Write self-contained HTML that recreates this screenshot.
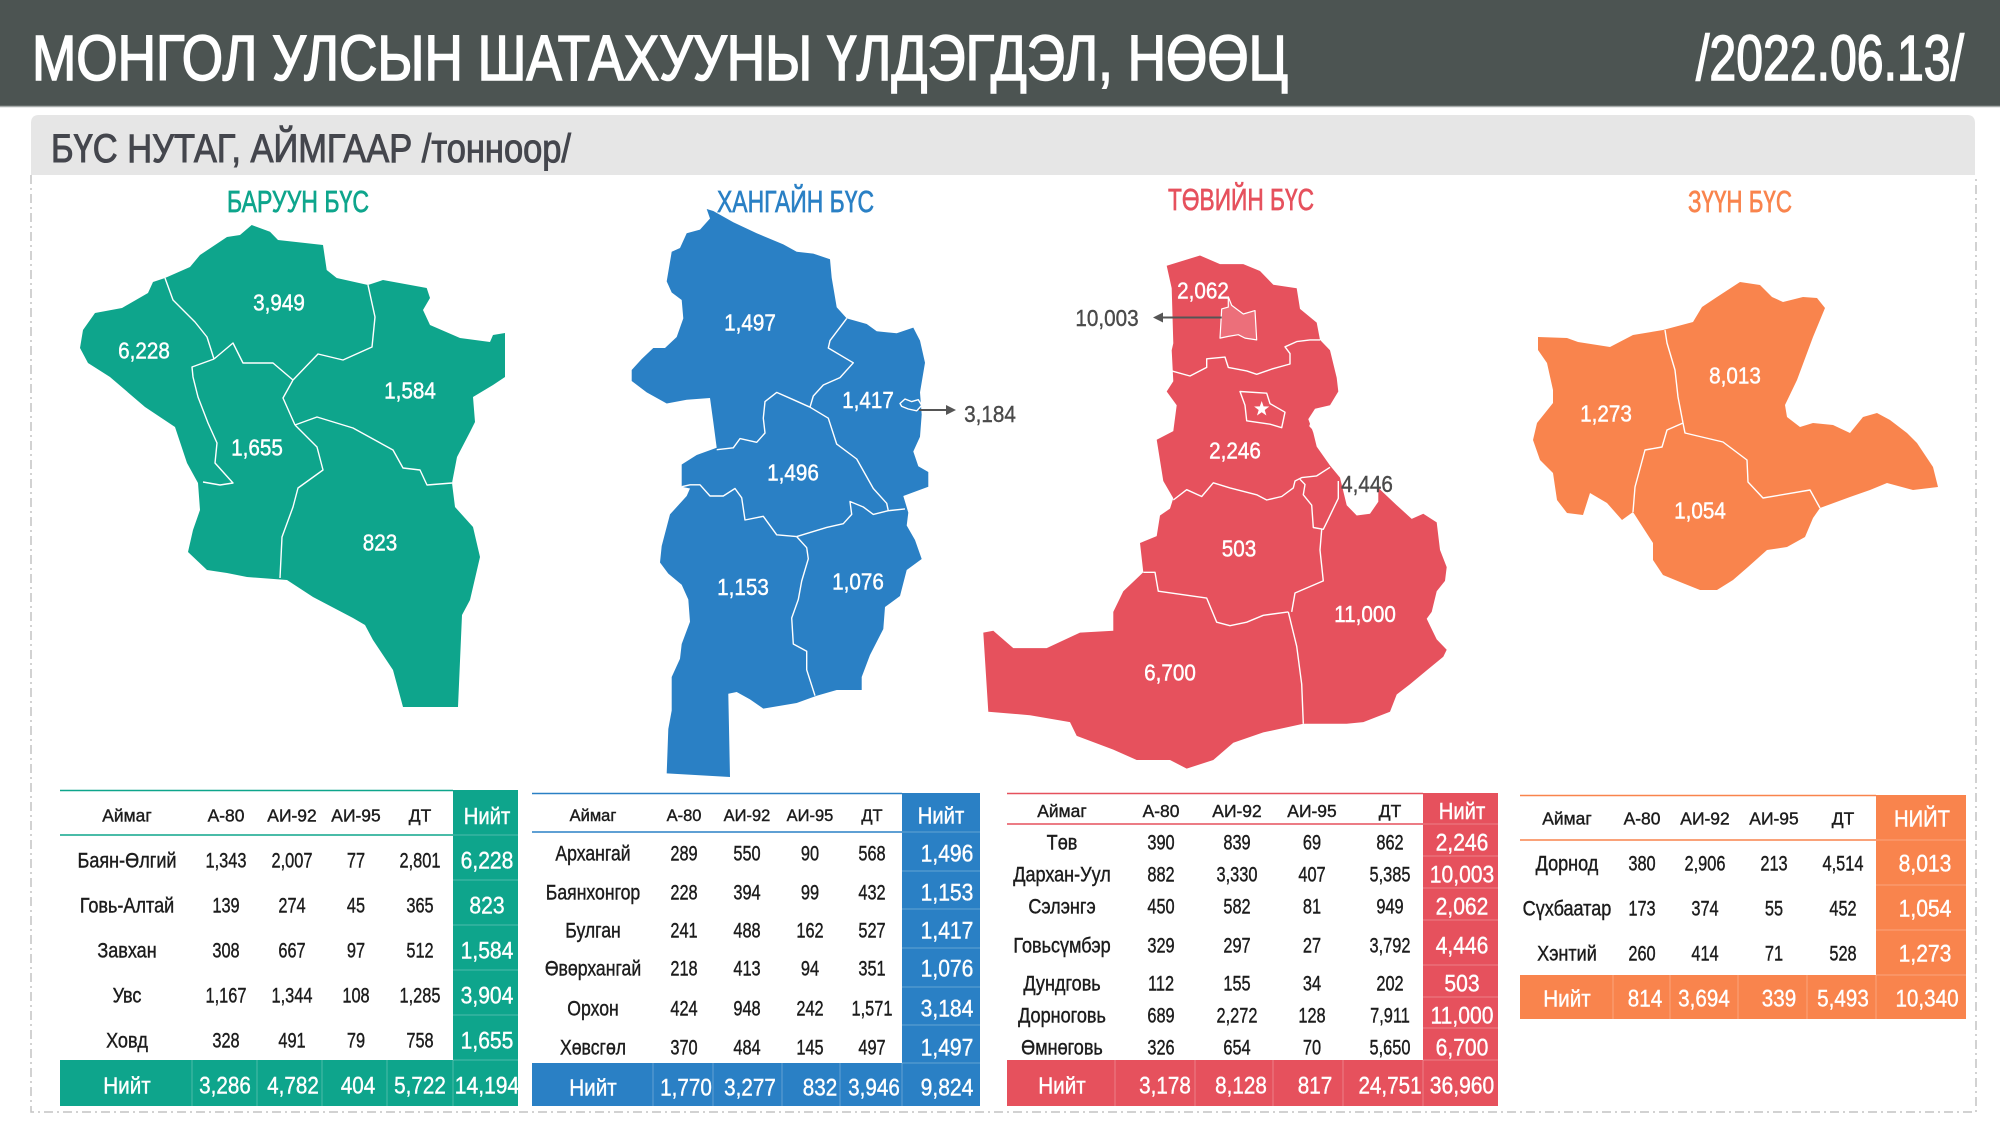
<!DOCTYPE html>
<html><head><meta charset="utf-8"><style>
html,body{margin:0;padding:0;background:#fff;overflow:hidden}
svg{display:block}
text{font-family:"Liberation Sans","DejaVu Sans",sans-serif}
.ml text{fill:#fff;text-anchor:middle;font-size:23.5px;stroke:#fff;stroke-width:.45px}
.tb text{text-anchor:middle;fill:#1c1c1c;stroke:#1c1c1c;stroke-width:.4px}
.tb.wt text{fill:#fff;stroke:#fff;stroke-width:.4px}
.bl{fill:none;stroke:#fff;stroke-width:1.4;stroke-linejoin:round}
</style></head><body>
<svg width="2000" height="1125" viewBox="0 0 2000 1125" xmlns="http://www.w3.org/2000/svg">
<rect width="2000" height="1125" fill="#fff"/>
<!-- header -->
<rect x="0" y="0" width="2000" height="106" fill="#4c5452"/>
<line x1="0" y1="106.5" x2="2000" y2="106.5" stroke="#a7acab" stroke-width="1.5"/>
<text x="32" y="80" font-size="64" fill="#fff" stroke="#fff" stroke-width="1.6" textLength="1256" lengthAdjust="spacingAndGlyphs">МОНГОЛ УЛСЫН ШАТАХУУНЫ ҮЛДЭГДЭЛ, НӨӨЦ</text>
<text x="1696" y="80" font-size="64" fill="#fff" stroke="#fff" stroke-width="1.6" textLength="268" lengthAdjust="spacingAndGlyphs">/2022.06.13/</text>
<!-- subheader -->
<path d="M31 175 L31 123 Q31 115 39 115 L1967 115 Q1975 115 1975 123 L1975 175 Z" fill="#e6e6e6"/>
<text x="51" y="162" font-size="40" fill="#44464d" stroke="#44464d" stroke-width="1" textLength="520" lengthAdjust="spacingAndGlyphs">БҮС НУТАГ, АЙМГААР /тонноор/</text>
<!-- dashed frame -->
<path d="M31 175 L31 1112 L1976 1112 L1976 175" fill="none" stroke="#c4c4c4" stroke-width="1.5" stroke-dasharray="9 4 2 4"/>

<!-- region titles -->
<text x="227" y="212" font-size="31" fill="#0ea58c" stroke="#0ea58c" stroke-width=".7" textLength="142" lengthAdjust="spacingAndGlyphs">БАРУУН БҮС</text>
<text x="717" y="212" font-size="31" fill="#2a80c5" stroke="#2a80c5" stroke-width=".7" textLength="157" lengthAdjust="spacingAndGlyphs">ХАНГАЙН БҮС</text>
<text x="1168" y="210" font-size="31" fill="#e6515d" stroke="#e6515d" stroke-width=".7" textLength="146" lengthAdjust="spacingAndGlyphs">ТӨВИЙН БҮС</text>
<text x="1688" y="212" font-size="31" fill="#f9844d" stroke="#f9844d" stroke-width=".7" textLength="104" lengthAdjust="spacingAndGlyphs">ЗҮҮН БҮС</text>

<!-- WEST map -->
<polygon fill="#0ea58c" points="251.7,225 270,231.7 278,240 323,245 326.7,270 336.7,278 368,285 383,280 426.7,288 430,298 423,310 430,325 460,338 490,342 493,335 505,333 505,377 493,385 473,397 475,422 470,432 457,457 452,483 455,507 473,527 480,557 470,600 462,615 458,707 403,707 393,670 373,640 365,625 353,618 313,597 287,580 247,577 227,573 207,570 188,552 193,530 200,510 198,483 187,463 175,427 160,417 145,407 110,377 88,363 80,348 83,330 95,313 122,308 148,293 153,282 165,278 190,267 200,255 227,237 240,235"/>
<polyline class="bl" points="165,278 173,300 195,322 207,337 214,359"/>
<polyline class="bl" points="214,359 192,367 193,377 198,397 208,423 217,443 215,463 233,483 220,485 203,482"/>
<polyline class="bl" points="214,359 233,343 243,363 273,363 293,380"/>
<polyline class="bl" points="368,285 375,317 372,347 343,360 318,354 293,380"/>
<polyline class="bl" points="293,380 283,398 295,425"/>
<polyline class="bl" points="295,425 317,417 353,428 393,450 403,468 420,470 427,485 452,483"/>
<polyline class="bl" points="295,425 317,447 323,470 298,488 293,507 282,537 280,578"/>
<g class="ml">
<text transform="translate(279 310.5) scale(.88 1)">3,949</text>
<text transform="translate(144 358.5) scale(.88 1)">6,228</text>
<text transform="translate(410 398.5) scale(.88 1)">1,584</text>
<text transform="translate(257 455.5) scale(.88 1)">1,655</text>
<text transform="translate(380 550.5) scale(.88 1)">823</text>
</g>

<!-- KHANGAI map -->
<polygon fill="#2a80c5" points="706.7,209 710,218.5 700,229.6 686.7,233.3 680,248 671.7,251.8 666.7,281.4 671.7,292.5 681.7,300 683.3,318.4 676.7,337 665,348 653.3,348 641.7,359 631.7,370 631.7,381 646.7,392.4 666.7,403.5 686.7,399.7 710,398 713.3,422 716.7,447.8 696.7,455 681.7,464.5 681.7,486.7 690,488.5 686.7,496 670,514.4 661.7,546 660,562.5 668.3,573.6 681.7,584.7 688.3,599.5 690,621.7 681.7,644 680,658.7 671.7,677 671.7,710.5 668.3,729 666.7,773.4 730,777 728.3,693.8 736.7,692 750,699.4 763.3,708.6 796.7,703 816.7,695.7 836.7,690 861.7,690 861.7,677 870,655 883.3,629 885,607 900,596 906.7,570 921.7,559 915,540 906.7,525.5 908.3,512.6 903.3,496 928.3,486.7 928.3,472 918.3,466.3 913.3,451.5 920,436.7 921.7,414.5 920,392.4 925,362.8 920,340.6 913.3,327.6 896.7,333.2 876.7,331.3 866.7,324 846.7,318.4 836.7,307.3 831.7,277.7 830,259.2 813.3,253.6 796.7,251.8 783.3,244.4 756.7,233.3 733.3,222.2 713.3,211"/>
<polyline class="bl" points="846.7,318.4 830,340.6 828.3,348 853.3,362.8 840,377.6 823.3,385 813.3,396 810,407.2"/>
<polyline class="bl" points="810,407.2 793.3,399.7 776.7,392.4 765,401.6 763.3,418.2 765,433 756.7,442.3 740,438.6 733.3,447.8 716.7,449.7"/>
<polyline class="bl" points="810,407.2 828.3,418.2 836.7,444.1 856.7,459 873.3,488.5 886.7,503.3 888.3,510.7 905,508.9"/>
<polyline class="bl" points="888.3,510.7 873.3,514.4 863.3,507 850,501.5 851.7,514.4 843.3,523.7 826.7,527.4 796.7,536.6"/>
<polyline class="bl" points="796.7,536.6 776.7,534.8 763.3,516.3 745,520 741.7,497.8 735,488.5 723.3,496 710,496 700,484.8 690,484.8 681.7,486.7"/>
<polyline class="bl" points="796.7,536.6 806.7,547.7 808.3,558.8 801.7,581 798.3,599.5 791.7,618 793.3,644 806.7,651.3 806.7,669.8 815,695.7"/>
<polygon class="bl" points="900,403.5 905,399 911.7,401.6 918.3,399.7 921.7,405.3 916.7,410.8 908.3,409 901.7,406.4"/>
<line x1="919" y1="410" x2="950" y2="410" stroke="#555" stroke-width="2"/>
<polygon points="956,410 946,405 946,415" fill="#555"/>
<text transform="translate(990 422) scale(.88 1)" text-anchor="middle" font-size="23.5" fill="#4a4a4a" stroke="#4a4a4a" stroke-width=".4">3,184</text>
<g class="ml">
<text transform="translate(750 330.5) scale(.88 1)">1,497</text>
<text transform="translate(868 408) scale(.88 1)">1,417</text>
<text transform="translate(793 480.5) scale(.88 1)">1,496</text>
<text transform="translate(743 595) scale(.88 1)">1,153</text>
<text transform="translate(858 589.5) scale(.88 1)">1,076</text>
</g>

<!-- CENTRAL map -->
<polygon fill="#e6515d" points="1166.7,265.8 1200,255.5 1220,264.1 1243.3,264.1 1260,271 1273.3,284.8 1296.7,288.2 1300,308.9 1316.7,322.6 1320,339.9 1330,350.2 1336.7,377.7 1338.3,391.5 1330,405.3 1315,408.7 1308.3,419.1 1313.3,432.8 1316.7,446.6 1330,465.5 1340,477.6 1346.7,505.2 1356.7,515.5 1370,513.8 1378.3,501.7 1378.3,487.9 1396.7,505.2 1411.7,518.9 1423.3,513.8 1436.7,522.4 1440,549.9 1446.7,567.1 1445,580.9 1436.7,591.2 1431.7,611.9 1426.7,618.8 1436.7,639.4 1446.7,649.8 1443.3,656.7 1426.7,670.4 1410,684.2 1396.7,694.5 1390,711.8 1363.3,722.1 1346.7,723.8 1303.3,723.8 1263.3,732.4 1233.3,742.8 1213.3,760 1186.7,768.6 1170,760 1136.7,760 1113.3,749.6 1076.7,735.9 1070,722.1 1030,715.2 988.3,711.8 983.3,632.6 993.3,630.8 1013.3,648.1 1046.7,648.1 1080,632.6 1113.3,630.8 1113.3,611.9 1123.3,591.2 1143.3,572.3 1140,543 1156.7,536.1 1160,515.5 1170,508.6 1173.3,498.3 1163.3,481 1156.7,439.7 1173.3,431.1 1176.7,405.3 1166.7,391.5 1173.3,381.2 1171.7,350.2 1173.3,343.3 1171.7,288.2"/>
<polygon fill="#ec6f7a" stroke="#fff" stroke-width="1.2" stroke-linejoin="round" points="1220,338.1 1221.7,308.9 1228.3,307.1 1228.3,296.8 1231.7,305.4 1243.3,314 1255,310.6 1256.7,339.9 1245,338.1 1238.3,334.7 1228.3,336.4"/>
<polyline class="bl" points="1171.7,370.9 1190,376 1206.7,367.4 1206.7,358.8 1225,357.1 1228.3,367.4 1246.7,370.9 1256.7,374.3 1271.7,369.1 1290,364 1290,353.6 1285,346.8 1296.7,341.6 1310,339.9 1320,339.9"/>
<polygon class="bl" points="1240,391.5 1266.7,393.2 1270,403.6 1285,412.2 1281.7,427.7 1270,424.2 1246.7,420.8 1245,405.3"/>
<polygon fill="#fff" transform="translate(1261.7 409)" points="0,-8 1.88,-2.59 7.61,-2.47 3.04,0.99 4.70,6.47 0,3.2 -4.70,6.47 -3.04,0.99 -7.61,-2.47 -1.88,-2.59"/>
<polyline class="bl" points="1315,412.2 1310,426 1315,431.1"/>
<polyline class="bl" points="1173.3,500 1186.7,489.7 1201.7,496.5 1213.3,482.8 1230,487.9 1256.7,494.8 1266.7,500 1281.7,496.5 1293.3,487.9 1295,481 1301.7,477.6 1316.7,475.9 1330,467.3"/>
<polyline class="bl" points="1300,479.3 1305,484.5 1303.3,494.8 1311.7,505.2 1313.3,527.5 1323.3,529.3 1326.7,522.4 1338.3,498.3 1338.3,481"/>
<polyline class="bl" points="1321.7,529.3 1320,549.9 1323.3,580.9 1295,593 1291.7,611.9"/>
<polyline class="bl" points="1143.3,572.3 1155,572.3 1158.3,591.2 1206.7,598.1 1216.7,622.2 1230,625.7 1246.7,622.2 1263.3,615.3 1288.3,611.9"/>
<polyline class="bl" points="1288.3,611.9 1296.7,646.3 1301.7,684.2 1303.3,723.8"/>
<line x1="1221.7" y1="317.5" x2="1160" y2="317.5" stroke="#555" stroke-width="2"/>
<polygon points="1153,317.5 1163,312.5 1163,322.5" fill="#555"/>
<text transform="translate(1107 326) scale(.88 1)" text-anchor="middle" font-size="23.5" fill="#4a4a4a" stroke="#4a4a4a" stroke-width=".4">10,003</text>
<text transform="translate(1367 492) scale(.88 1)" text-anchor="middle" font-size="23.5" fill="#4a4a4a" stroke="#4a4a4a" stroke-width=".4">4,446</text>
<g class="ml">
<text transform="translate(1203 298.5) scale(.88 1)">2,062</text>
<text transform="translate(1235 458.5) scale(.88 1)">2,246</text>
<text transform="translate(1239 556.7) scale(.88 1)">503</text>
<text transform="translate(1365 622) scale(.88 1)">11,000</text>
<text transform="translate(1170 680.7) scale(.88 1)">6,700</text>
</g>

<!-- EAST map -->
<polygon fill="#f9844d" points="1538,337 1567,338 1578,342 1610,347 1633,335 1663,330 1693,322 1702,307 1717,297 1740,282 1760,285 1772,297 1783,302 1803,297 1817,298 1825,308 1813,337 1797,380 1785,405 1787,417 1800,427 1813,423 1833,425 1850,433 1863,417 1877,413 1890,420 1907,433 1917,443 1933,467 1938,487 1913,490 1887,483 1870,490 1850,497 1820,508 1813,518 1805,537 1787,547 1767,550 1748,567 1733,580 1717,590 1700,590 1680,582 1663,575 1653,560 1653,543 1633,512 1622,520 1607,503 1590,493 1583,515 1567,513 1557,500 1553,473 1540,460 1533,440 1537,423 1553,403 1553,390 1547,363 1538,350"/>
<polyline class="bl" points="1665,330 1667,343 1675,370 1678,397 1683,423"/>
<polyline class="bl" points="1683,423 1667,430 1662,447 1645,450 1635,487 1633,512"/>
<polyline class="bl" points="1683,423 1685,433 1723,442 1747,460 1748,482 1763,498 1810,490 1820,508"/>
<g class="ml">
<text transform="translate(1735 383.5) scale(.88 1)">8,013</text>
<text transform="translate(1606 421.5) scale(.88 1)">1,273</text>
<text transform="translate(1700 518.5) scale(.88 1)">1,054</text>
</g>

<!-- TABLE 1 (teal) -->
<g>
<rect x="453" y="790" width="65" height="316" fill="#0ea58c"/>
<rect x="60" y="1060" width="458" height="46" fill="#0ea58c"/>
<line x1="60" y1="790.5" x2="453" y2="790.5" stroke="#0ea58c" stroke-width="1.5"/>
<line x1="60" y1="835" x2="453" y2="835" stroke="#0ea58c" stroke-width="1.5"/>
<g stroke="rgba(255,255,255,0.22)" stroke-width="1.2">
<line x1="453" y1="835" x2="518" y2="835"/><line x1="453" y1="880" x2="518" y2="880"/><line x1="453" y1="925" x2="518" y2="925"/><line x1="453" y1="970" x2="518" y2="970"/><line x1="453" y1="1015" x2="518" y2="1015"/><line x1="453" y1="1060" x2="518" y2="1060"/>
<line x1="192" y1="1060" x2="192" y2="1106"/><line x1="257" y1="1060" x2="257" y2="1106"/><line x1="322" y1="1060" x2="322" y2="1106"/><line x1="387" y1="1060" x2="387" y2="1106"/><line x1="453" y1="1060" x2="453" y2="1106"/>
</g>
<g class="tb" font-size="18">
<g transform="translate(127 0) scale(.97 1)"><text y="821.5">Аймаг</text></g>
<g transform="translate(226 0) scale(.97 1)"><text y="821.5">А-80</text></g>
<g transform="translate(292 0) scale(.97 1)"><text y="821.5">АИ-92</text></g>
<g transform="translate(356 0) scale(.97 1)"><text y="821.5">АИ-95</text></g>
<g transform="translate(420 0) scale(.97 1)"><text y="821.5">ДТ</text></g>
</g>
<g class="tb" font-size="21">
<g transform="translate(127 0) scale(.86 1)"><text y="867.7">Баян-Өлгий</text><text y="912.7">Говь-Алтай</text><text y="957.7">Завхан</text><text y="1002.7">Увс</text><text y="1047.7">Ховд</text></g>
<g transform="translate(226 0) scale(.78 1)"><text y="867.7">1,343</text><text y="912.7">139</text><text y="957.7">308</text><text y="1002.7">1,167</text><text y="1047.7">328</text></g>
<g transform="translate(292 0) scale(.78 1)"><text y="867.7">2,007</text><text y="912.7">274</text><text y="957.7">667</text><text y="1002.7">1,344</text><text y="1047.7">491</text></g>
<g transform="translate(356 0) scale(.78 1)"><text y="867.7">77</text><text y="912.7">45</text><text y="957.7">97</text><text y="1002.7">108</text><text y="1047.7">79</text></g>
<g transform="translate(420 0) scale(.78 1)"><text y="867.7">2,801</text><text y="912.7">365</text><text y="957.7">512</text><text y="1002.7">1,285</text><text y="1047.7">758</text></g>
</g>
<g class="tb wt" font-size="24">
<g transform="translate(487 0) scale(.88 1)"><text y="824" font-size="23">Нийт</text><text y="868.7">6,228</text><text y="913.7">823</text><text y="958.7">1,584</text><text y="1003.7">3,904</text><text y="1048.7">1,655</text><text y="1093.7">14,194</text></g>
<g transform="translate(127 0) scale(.9 1)"><text y="1093.5" font-size="23">Нийт</text></g>
<g transform="translate(225 0) scale(.86 1)"><text y="1093.7">3,286</text></g>
<g transform="translate(293 0) scale(.86 1)"><text y="1093.7">4,782</text></g>
<g transform="translate(358 0) scale(.86 1)"><text y="1093.7">404</text></g>
<g transform="translate(420 0) scale(.86 1)"><text y="1093.7">5,722</text></g>
</g>
</g>

<!-- TABLE 2 (blue) -->
<g>
<rect x="902" y="793" width="78" height="313" fill="#2a80c5"/>
<rect x="532" y="1063" width="448" height="43" fill="#2a80c5"/>
<line x1="532" y1="793.5" x2="902" y2="793.5" stroke="#2a80c5" stroke-width="1.5"/>
<line x1="532" y1="832" x2="902" y2="832" stroke="#2a80c5" stroke-width="1.5"/>
<g stroke="rgba(255,255,255,0.22)" stroke-width="1.2">
<line x1="902" y1="832" x2="980" y2="832"/><line x1="902" y1="871" x2="980" y2="871"/><line x1="902" y1="909" x2="980" y2="909"/><line x1="902" y1="948" x2="980" y2="948"/><line x1="902" y1="987" x2="980" y2="987"/><line x1="902" y1="1025" x2="980" y2="1025"/><line x1="902" y1="1063" x2="980" y2="1063"/>
<line x1="653" y1="1063" x2="653" y2="1106"/><line x1="713" y1="1063" x2="713" y2="1106"/><line x1="782" y1="1063" x2="782" y2="1106"/><line x1="840" y1="1063" x2="840" y2="1106"/><line x1="902" y1="1063" x2="902" y2="1106"/>
</g>
<g class="tb" font-size="17">
<g transform="translate(593 0) scale(.97 1)"><text y="821">Аймаг</text></g>
<g transform="translate(684 0) scale(.97 1)"><text y="821">А-80</text></g>
<g transform="translate(747 0) scale(.97 1)"><text y="821">АИ-92</text></g>
<g transform="translate(810 0) scale(.97 1)"><text y="821">АИ-95</text></g>
<g transform="translate(872 0) scale(.97 1)"><text y="821">ДТ</text></g>
</g>
<g class="tb" font-size="21">
<g transform="translate(593 0) scale(.84 1)"><text y="860.7">Архангай</text><text y="899.7">Баянхонгор</text><text y="937.7">Булган</text><text y="975.7">Өвөрхангай</text><text y="1015.7">Орхон</text><text y="1054.7">Хөвсгөл</text></g>
<g transform="translate(684 0) scale(.78 1)"><text y="860.7">289</text><text y="899.7">228</text><text y="937.7">241</text><text y="975.7">218</text><text y="1015.7">424</text><text y="1054.7">370</text></g>
<g transform="translate(747 0) scale(.78 1)"><text y="860.7">550</text><text y="899.7">394</text><text y="937.7">488</text><text y="975.7">413</text><text y="1015.7">948</text><text y="1054.7">484</text></g>
<g transform="translate(810 0) scale(.78 1)"><text y="860.7">90</text><text y="899.7">99</text><text y="937.7">162</text><text y="975.7">94</text><text y="1015.7">242</text><text y="1054.7">145</text></g>
<g transform="translate(872 0) scale(.78 1)"><text y="860.7">568</text><text y="899.7">432</text><text y="937.7">527</text><text y="975.7">351</text><text y="1015.7">1,571</text><text y="1054.7">497</text></g>
</g>
<g class="tb wt" font-size="24">
<g transform="translate(941 0) scale(.88 1)"><text y="823.5" font-size="23">Нийт</text></g>
<g transform="translate(947 0) scale(.88 1)"><text y="861.7">1,496</text><text y="900.7">1,153</text><text y="938.7">1,417</text><text y="976.7">1,076</text><text y="1016.7">3,184</text><text y="1055.7">1,497</text><text y="1095.7">9,824</text></g>
<g transform="translate(593 0) scale(.9 1)"><text y="1095.5" font-size="23">Нийт</text></g>
<g transform="translate(686 0) scale(.86 1)"><text y="1095.7">1,770</text></g>
<g transform="translate(750 0) scale(.86 1)"><text y="1095.7">3,277</text></g>
<g transform="translate(820 0) scale(.86 1)"><text y="1095.7">832</text></g>
<g transform="translate(874 0) scale(.86 1)"><text y="1095.7">3,946</text></g>
</g>
</g>

<!-- TABLE 3 (red) -->
<g>
<rect x="1423" y="793" width="75" height="313" fill="#e6515d"/>
<rect x="1007" y="1060" width="491" height="46" fill="#e6515d"/>
<line x1="1007" y1="793.5" x2="1423" y2="793.5" stroke="#e6515d" stroke-width="1.5"/>
<line x1="1007" y1="824" x2="1423" y2="824" stroke="#e6515d" stroke-width="1.5"/>
<g stroke="rgba(255,255,255,0.22)" stroke-width="1.2">
<line x1="1423" y1="824" x2="1498" y2="824"/><line x1="1423" y1="856" x2="1498" y2="856"/><line x1="1423" y1="888" x2="1498" y2="888"/><line x1="1423" y1="920" x2="1498" y2="920"/><line x1="1423" y1="965" x2="1498" y2="965"/><line x1="1423" y1="997" x2="1498" y2="997"/><line x1="1423" y1="1028" x2="1498" y2="1028"/><line x1="1423" y1="1060" x2="1498" y2="1060"/>
<line x1="1115" y1="1060" x2="1115" y2="1106"/><line x1="1195" y1="1060" x2="1195" y2="1106"/><line x1="1273" y1="1060" x2="1273" y2="1106"/><line x1="1343" y1="1060" x2="1343" y2="1106"/><line x1="1423" y1="1060" x2="1423" y2="1106"/>
</g>
<g class="tb" font-size="18">
<g transform="translate(1062 0) scale(.97 1)"><text y="817">Аймаг</text></g>
<g transform="translate(1161 0) scale(.97 1)"><text y="817">А-80</text></g>
<g transform="translate(1237 0) scale(.97 1)"><text y="817">АИ-92</text></g>
<g transform="translate(1312 0) scale(.97 1)"><text y="817">АИ-95</text></g>
<g transform="translate(1390 0) scale(.97 1)"><text y="817">ДТ</text></g>
</g>
<g class="tb" font-size="21">
<g transform="translate(1062 0) scale(.86 1)"><text y="849.4">Төв</text><text y="881.7">Дархан-Уул</text><text y="913.7">Сэлэнгэ</text><text y="952.7">Говьсүмбэр</text><text y="990.4">Дундговь</text><text y="1022.7">Дорноговь</text><text y="1054.4">Өмнөговь</text></g>
<g transform="translate(1161 0) scale(.78 1)"><text y="849.4">390</text><text y="881.7">882</text><text y="913.7">450</text><text y="952.7">329</text><text y="990.4">112</text><text y="1022.7">689</text><text y="1054.4">326</text></g>
<g transform="translate(1237 0) scale(.78 1)"><text y="849.4">839</text><text y="881.7">3,330</text><text y="913.7">582</text><text y="952.7">297</text><text y="990.4">155</text><text y="1022.7">2,272</text><text y="1054.4">654</text></g>
<g transform="translate(1312 0) scale(.78 1)"><text y="849.4">69</text><text y="881.7">407</text><text y="913.7">81</text><text y="952.7">27</text><text y="990.4">34</text><text y="1022.7">128</text><text y="1054.4">70</text></g>
<g transform="translate(1390 0) scale(.78 1)"><text y="849.4">862</text><text y="881.7">5,385</text><text y="913.7">949</text><text y="952.7">3,792</text><text y="990.4">202</text><text y="1022.7">7,911</text><text y="1054.4">5,650</text></g>
</g>
<g class="tb wt" font-size="24">
<g transform="translate(1462 0) scale(.88 1)"><text y="819" font-size="23">Нийт</text><text y="850.4">2,246</text><text y="882.7">10,003</text><text y="914.7">2,062</text><text y="953.7">4,446</text><text y="991.4">503</text><text y="1023.7">11,000</text><text y="1055.4">6,700</text><text y="1093.7">36,960</text></g>
<g transform="translate(1062 0) scale(.9 1)"><text y="1093.5" font-size="23">Нийт</text></g>
<g transform="translate(1165 0) scale(.86 1)"><text y="1093.7">3,178</text></g>
<g transform="translate(1241 0) scale(.86 1)"><text y="1093.7">8,128</text></g>
<g transform="translate(1315 0) scale(.86 1)"><text y="1093.7">817</text></g>
<g transform="translate(1390 0) scale(.86 1)"><text y="1093.7">24,751</text></g>
</g>
</g>

<!-- TABLE 4 (orange) -->
<g>
<rect x="1876" y="795" width="90" height="224" fill="#f9844d"/>
<rect x="1520" y="975" width="446" height="44" fill="#f9844d"/>
<line x1="1520" y1="795.5" x2="1876" y2="795.5" stroke="#f9844d" stroke-width="1.5"/>
<line x1="1520" y1="840" x2="1876" y2="840" stroke="#f9844d" stroke-width="1.5"/>
<g stroke="rgba(255,255,255,0.22)" stroke-width="1.2">
<line x1="1876" y1="840" x2="1966" y2="840"/><line x1="1876" y1="885" x2="1966" y2="885"/><line x1="1876" y1="930" x2="1966" y2="930"/><line x1="1876" y1="975" x2="1966" y2="975"/>
<line x1="1613" y1="975" x2="1613" y2="1019"/><line x1="1670" y1="975" x2="1670" y2="1019"/><line x1="1738" y1="975" x2="1738" y2="1019"/><line x1="1807" y1="975" x2="1807" y2="1019"/><line x1="1876" y1="975" x2="1876" y2="1019"/>
</g>
<g class="tb" font-size="18">
<g transform="translate(1567 0) scale(.97 1)"><text y="824.5">Аймаг</text></g>
<g transform="translate(1642 0) scale(.97 1)"><text y="824.5">А-80</text></g>
<g transform="translate(1705 0) scale(.97 1)"><text y="824.5">АИ-92</text></g>
<g transform="translate(1774 0) scale(.97 1)"><text y="824.5">АИ-95</text></g>
<g transform="translate(1843 0) scale(.97 1)"><text y="824.5">ДТ</text></g>
</g>
<g class="tb" font-size="21">
<g transform="translate(1567 0) scale(.86 1)"><text y="870.7">Дорнод</text><text y="915.7">Сүхбаатар</text><text y="960.7">Хэнтий</text></g>
<g transform="translate(1642 0) scale(.78 1)"><text y="870.7">380</text><text y="915.7">173</text><text y="960.7">260</text></g>
<g transform="translate(1705 0) scale(.78 1)"><text y="870.7">2,906</text><text y="915.7">374</text><text y="960.7">414</text></g>
<g transform="translate(1774 0) scale(.78 1)"><text y="870.7">213</text><text y="915.7">55</text><text y="960.7">71</text></g>
<g transform="translate(1843 0) scale(.78 1)"><text y="870.7">4,514</text><text y="915.7">452</text><text y="960.7">528</text></g>
</g>
<g class="tb wt" font-size="24">
<g transform="translate(1922 0) scale(.88 1)"><text y="826.5" font-size="23">НИЙТ</text></g>
<g transform="translate(1925 0) scale(.88 1)"><text y="871.7">8,013</text><text y="916.7">1,054</text><text y="961.7">1,273</text></g>
<g transform="translate(1927 0) scale(.86 1)"><text y="1006.7">10,340</text></g>
<g transform="translate(1567 0) scale(.9 1)"><text y="1006.5" font-size="23">Нийт</text></g>
<g transform="translate(1645 0) scale(.86 1)"><text y="1006.7">814</text></g>
<g transform="translate(1704 0) scale(.86 1)"><text y="1006.7">3,694</text></g>
<g transform="translate(1779 0) scale(.86 1)"><text y="1006.7">339</text></g>
<g transform="translate(1843 0) scale(.86 1)"><text y="1006.7">5,493</text></g>
</g>
</g>
</svg>
</body></html>
